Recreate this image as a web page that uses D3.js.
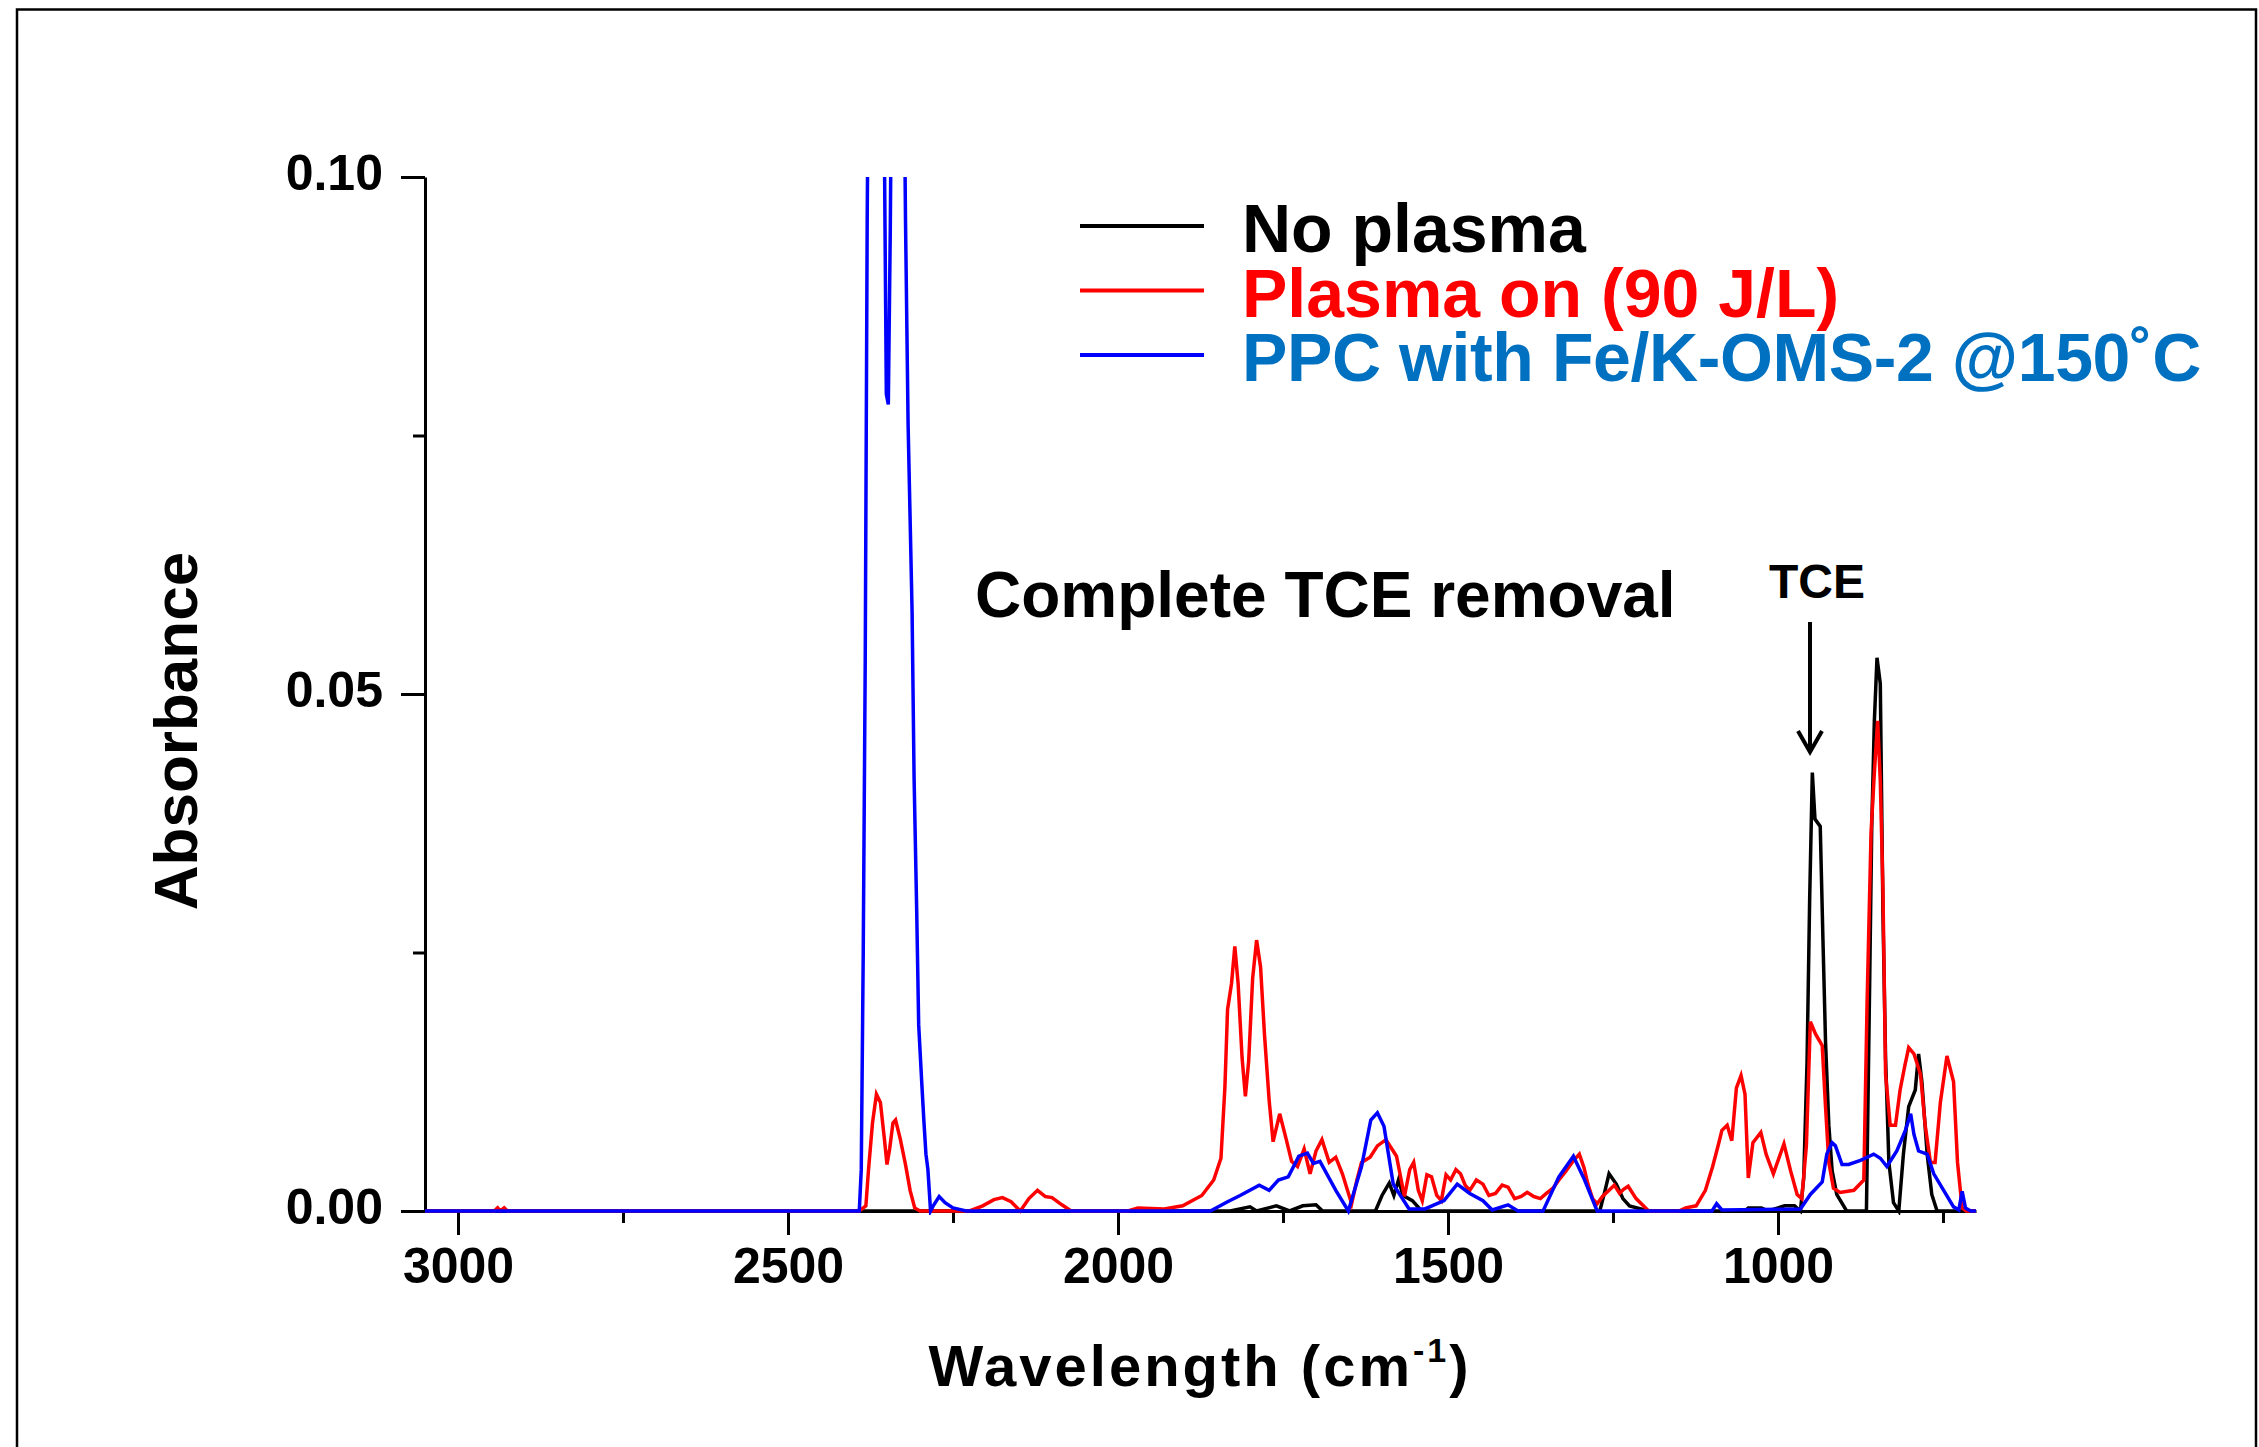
<!DOCTYPE html>
<html>
<head>
<meta charset="utf-8">
<script src="https://cdn.jsdelivr.net/npm/d3@7"></script>
<style>
  body { margin: 0; background: #fff; }
  svg { display: block; font-family: "Liberation Sans", Arial, sans-serif; }
</style>
</head>
<body>
<div id="chart"></div>
<script>
// --- Data (wavenumber cm-1, absorbance) ---
const noPlasma = [
  [3050, 0], [1830, 0], [1800, 0.0004], [1790, 0], [1760, 0.0005], [1740, 0], [1720, 0.0005],
  [1700, 0.0006], [1690, 0], [1610, 0], [1600, 0.0015], [1589, 0.0027], [1582, 0.0015],
  [1575, 0.003], [1568, 0.0015], [1554, 0.001], [1540, 0], [1270, 0], [1262, 0.002],
  [1256, 0.0036], [1245, 0.0026], [1235, 0.0012], [1225, 0.0005], [1196, 0], [1050, 0],
  [1045, 0.0003], [1025, 0.0003], [1015, 0], [990, 0.0005], [975, 0.0005], [966, 0],
  [961, 0.0032], [956, 0.0144], [952, 0.0303], [948, 0.0424], [944, 0.0379], [936, 0.0372],
  [932, 0.0265], [928, 0.0164], [923, 0.0083], [918, 0.0039], [911, 0.0016], [896, 0],
  [866, 0], [861, 0.0226], [858, 0.037], [854, 0.0474], [850, 0.0535], [845, 0.051],
  [841, 0.0288], [837, 0.0148], [832, 0.0047], [825, 0.0008], [817, 0], [810, 0.0055],
  [802, 0.0101], [792, 0.0117], [787, 0.0152], [782, 0.0125], [774, 0.0055], [767, 0.0016],
  [759, 0], [700, 0]
];

const plasmaOn = [
  [3050, 0], [2945, 0], [2940, 0.0003], [2936, 0], [2930, 0.0003], [2925, 0], [2392, 0],
  [2382, 0.0005], [2378, 0.004], [2372, 0.0085], [2366, 0.0113], [2360, 0.0105], [2354, 0.007],
  [2350, 0.0045], [2346, 0.006], [2341, 0.0085], [2337, 0.0088], [2330, 0.007], [2322, 0.0045],
  [2315, 0.002], [2308, 0.0003], [2300, 0], [2225, 0], [2205, 0.0005], [2188, 0.0011],
  [2175, 0.0013], [2162, 0.0009], [2148, 0], [2135, 0.0012], [2122, 0.002], [2110, 0.0014],
  [2100, 0.0013], [2085, 0.0006], [2071, 0], [1985, 0], [1970, 0.0003], [1930, 0.0002],
  [1902, 0.0005], [1873, 0.0015], [1855, 0.003], [1844, 0.0051], [1838, 0.012], [1834, 0.0195],
  [1828, 0.022], [1823, 0.0256], [1818, 0.022], [1812, 0.0148], [1807, 0.0111], [1802, 0.0145],
  [1796, 0.0225], [1790, 0.0262], [1784, 0.0236], [1778, 0.017], [1771, 0.0107], [1765, 0.0067],
  [1755, 0.0094], [1745, 0.0069], [1737, 0.0048], [1728, 0.0043], [1718, 0.006], [1709, 0.0036],
  [1700, 0.0058], [1691, 0.0069], [1680, 0.0047], [1670, 0.0052], [1660, 0.0036], [1646, 0.0007],
  [1638, 0.003], [1631, 0.0047], [1618, 0.0052], [1607, 0.0063], [1594, 0.0069], [1585, 0.006],
  [1578, 0.0053], [1566, 0.0014], [1558, 0.004], [1552, 0.0047], [1545, 0.002], [1539, 0.001],
  [1532, 0.0035], [1525, 0.0033], [1517, 0.0015], [1510, 0.001], [1503, 0.0035], [1496, 0.003],
  [1488, 0.004], [1481, 0.0036], [1474, 0.0025], [1467, 0.002], [1457, 0.003], [1447, 0.0026],
  [1438, 0.0015], [1428, 0.0017], [1418, 0.0025], [1409, 0.0023], [1399, 0.0012], [1389, 0.0014],
  [1380, 0.0018], [1370, 0.0014], [1360, 0.0012], [1351, 0.0017], [1341, 0.0022], [1332, 0.003],
  [1322, 0.0038], [1312, 0.0047], [1301, 0.0055], [1294, 0.0042], [1288, 0.0026], [1281, 0.0012],
  [1274, 0.0007], [1266, 0.0014], [1256, 0.002], [1248, 0.0025], [1240, 0.0017], [1234, 0.0021],
  [1227, 0.0024], [1215, 0.0012], [1196, 0], [1150, 0], [1140, 0.0003], [1124, 0.0005],
  [1110, 0.002], [1099, 0.0043], [1090, 0.0065], [1085, 0.0078], [1077, 0.0083], [1070, 0.0068],
  [1063, 0.0119], [1056, 0.0131], [1050, 0.0113], [1045, 0.0032], [1038, 0.0066], [1026, 0.0076],
  [1018, 0.0055], [1007, 0.0036], [991, 0.0065], [981, 0.0039], [971, 0.0016], [964, 0.0012],
  [957, 0.0063], [951, 0.0183], [943, 0.0171], [933, 0.016], [928, 0.0101], [923, 0.0047],
  [916, 0.0022], [906, 0.0018], [885, 0.002], [870, 0.003], [865, 0.0202], [859, 0.0366],
  [854, 0.0424], [849, 0.0474], [845, 0.0416], [841, 0.0311], [837, 0.0132], [830, 0.0083],
  [822, 0.0083], [815, 0.0117], [808, 0.014], [802, 0.0158], [794, 0.0152], [784, 0.0132],
  [777, 0.0083], [769, 0.0047], [762, 0.0047], [754, 0.0105], [744, 0.015], [734, 0.0125],
  [728, 0.0047], [721, 0.0003], [715, 0], [700, 0]
];

const ppcCatalyst = [
  [3050, 0], [2392, 0], [2389, 0.004], [2386, 0.025], [2383, 0.053], [2380, 0.096], [2376, 0.13],
  [2366, 0.14], [2356, 0.12], [2353, 0.095], [2351, 0.079], [2348, 0.078], [2345, 0.095],
  [2342, 0.12], [2333, 0.13], [2324, 0.11], [2322, 0.096], [2318, 0.076], [2312, 0.058],
  [2309, 0.042], [2305, 0.029], [2302, 0.018], [2297, 0.012], [2294, 0.0086], [2291, 0.0055],
  [2288, 0.004], [2284, 0], [2279, 0.0006], [2271, 0.0014], [2262, 0.0008], [2250, 0.0003],
  [2230, 0], [1860, 0], [1834, 0.0009], [1815, 0.0015], [1786, 0.0025], [1771, 0.002],
  [1757, 0.003], [1742, 0.0033], [1726, 0.0053], [1713, 0.0056], [1704, 0.0046], [1694, 0.0048],
  [1670, 0.002], [1651, 0], [1631, 0.0043], [1617, 0.0088], [1607, 0.0095], [1597, 0.0082],
  [1583, 0.0026], [1559, 0.0002], [1535, 0.0002], [1506, 0.001], [1486, 0.0026], [1467, 0.0017],
  [1447, 0.001], [1433, 0.0001], [1409, 0.0006], [1394, 0], [1356, 0], [1332, 0.0033],
  [1310, 0.0053], [1293, 0.003], [1274, 0], [1100, 0], [1093, 0.0007], [1085, 0.0001],
  [966, 0.0002], [951, 0.0016], [933, 0.0028], [926, 0.0055], [918, 0.0066], [913, 0.0063],
  [903, 0.0045], [893, 0.0045], [875, 0.0049], [855, 0.0055], [845, 0.0051], [835, 0.0043],
  [820, 0.0058], [807, 0.0078], [799, 0.0094], [794, 0.0074], [787, 0.0058], [774, 0.0055],
  [764, 0.0036], [749, 0.002], [734, 0.0004], [726, 0.0001], [721, 0.0019], [716, 0.0003],
  [708, 0], [700, 0]
];

const seriesNames = ["No plasma", "Plasma on (90 J/L)", "PPC with Fe/K-OMS-2 @150\u02DAC"];
const xMajorTicks = [3000, 2500, 2000, 1500, 1000];
const xMinorTicks = [2750, 2250, 1750, 1250, 750];
const yMajorTicks = [0, 0.05, 0.10];
const yMinorTicks = [0.025, 0.075];

// --- Layout ---
const W = 2259, H = 1447;
const plot = { left: 425, right: 1976, top: 177, bottom: 1211 };

const svg = d3.select('#chart').append('svg')
    .attr('width', W)
    .attr('height', H);

// outer frame
svg.append('path')
    .attr('d', `M17,${H}V9.5H2256V${H}`)
    .attr('fill', 'none')
    .attr('stroke', '#000')
    .attr('stroke-width', 2.5);

const x = d3.scaleLinear().domain([3050, 700]).range([plot.left, plot.right]);
const y = d3.scaleLinear().domain([0, 0.1]).range([plot.bottom, plot.top]);

svg.append('clipPath').attr('id', 'plotClip')
  .append('rect')
    .attr('x', plot.left)
    .attr('y', plot.top)
    .attr('width', plot.right - plot.left)
    .attr('height', plot.bottom - plot.top + 4);

// --- Axes ---
function styleAxis(g) {
    g.selectAll('path.domain').attr('stroke', '#000').attr('stroke-width', 3);
    g.selectAll('.tick line').attr('stroke', '#000').attr('stroke-width', 3);
    g.selectAll('.tick text')
        .attr('fill', '#000')
        .style('font-size', '50px')
        .style('font-weight', 'bold');
}

svg.append('g')
    .attr('transform', `translate(0,${plot.bottom})`)
    .call(d3.axisBottom(x).tickValues(xMinorTicks).tickSize(12).tickFormat('').tickSizeOuter(0))
    .call(g => g.select('.domain').remove())
    .call(styleAxis);

svg.append('g')
    .attr('transform', `translate(0,${plot.bottom})`)
    .call(d3.axisBottom(x).tickValues(xMajorTicks).tickSize(24).tickPadding(12)
        .tickFormat(d3.format('d')).tickSizeOuter(0))
    .call(styleAxis);

svg.append('g')
    .attr('transform', `translate(${plot.left},0)`)
    .call(d3.axisLeft(y).tickValues(yMinorTicks).tickSize(12).tickFormat('').tickSizeOuter(0))
    .call(g => g.select('.domain').remove())
    .call(styleAxis);

svg.append('g')
    .attr('transform', `translate(${plot.left},0)`)
    .call(d3.axisLeft(y).tickValues(yMajorTicks).tickSize(24).tickPadding(18)
        .tickFormat(d3.format('.2f')).tickSizeOuter(0))
    .call(styleAxis)
    .call(g => g.selectAll('.tick text').attr('dy', '0.25em'));

// --- Spectra ---
const line = d3.line().x(d => x(d[0])).y(d => y(d[1]));
const curves = [
    { data: noPlasma, color: '#000000' },
    { data: plasmaOn, color: '#ff0000' },
    { data: ppcCatalyst, color: '#0000ff' }
];

svg.append('g')
    .attr('clip-path', 'url(#plotClip)')
  .selectAll('path')
  .data(curves)
  .join('path')
    .attr('d', d => line(d.data))
    .attr('fill', 'none')
    .attr('stroke', d => d.color)
    .attr('stroke-width', 3.5);

// --- Axis titles ---
svg.append('text')
    .attr('transform', 'translate(197,731) rotate(-90)')
    .attr('text-anchor', 'middle')
    .style('font-size', '62px')
    .style('font-weight', 'bold')
    .text('Absorbance');

const xTitle = svg.append('text')
    .attr('x', 1200)
    .attr('y', 1386)
    .attr('text-anchor', 'middle')
    .style('font-size', '58px')
    .style('font-weight', 'bold')
    .style('letter-spacing', '3px');
xTitle.append('tspan').text('Wavelength (cm');
xTitle.append('tspan').attr('dy', -24).style('font-size', '34px').text('-1');
xTitle.append('tspan').attr('dy', 24).text(')');

// --- Legend ---
const legendColors = ['#000000', '#ff0000', '#0000ff'];
const legendTextColors = ['#000000', '#ff0000', '#0070c0'];
const legend = svg.append('g');
seriesNames.forEach((name, i) => {
    const base = 252 + i * 64.5;
    legend.append('line')
        .attr('x1', 1080).attr('x2', 1204)
        .attr('y1', base - 26).attr('y2', base - 26)
        .attr('stroke', legendColors[i])
        .attr('stroke-width', 4);
    legend.append('text')
        .attr('x', 1242)
        .attr('y', base)
        .attr('fill', legendTextColors[i])
        .style('font-size', '68px')
        .style('font-weight', 'bold')
        .style('letter-spacing', i === 2 ? '-0.4px' : '0px')
        .text(name);
});

// --- Annotations ---
svg.append('text')
    .attr('x', 975)
    .attr('y', 617)
    .style('font-size', '64px')
    .style('font-weight', 'bold')
    .text('Complete TCE removal');

svg.append('text')
    .attr('x', 1817)
    .attr('y', 598)
    .attr('text-anchor', 'middle')
    .style('font-size', '48px')
    .style('font-weight', 'bold')
    .text('TCE');

svg.append('line')
    .attr('x1', 1810).attr('x2', 1810)
    .attr('y1', 622).attr('y2', 751)
    .attr('stroke', '#000')
    .attr('stroke-width', 4);
svg.append('path')
    .attr('d', 'M1798,731L1810,752L1822,731')
    .attr('fill', 'none')
    .attr('stroke', '#000')
    .attr('stroke-width', 4);
</script>
</body>
</html>
